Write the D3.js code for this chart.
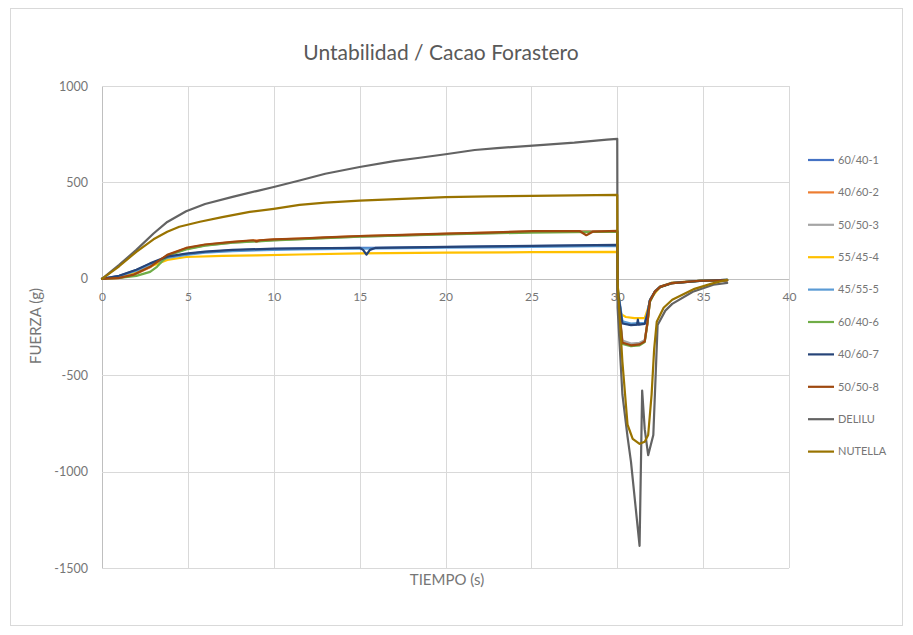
<!DOCTYPE html>
<html>
<head>
<meta charset="utf-8">
<script src="https://cdn.jsdelivr.net/npm/d3@7"></script>
<style>
  html, body { margin: 0; padding: 0; background: #fff; }
  svg { display: block; font-family: Lato, "Open Sans", sans-serif; }
</style>
</head>
<body>
<svg id="chart" width="913" height="635"></svg>
<script>
// Spreadability test: force (g) against time (s) for each sample
const chartTitle = "Untabilidad / Cacao Forastero";
const xTitle = "TIEMPO (s)";
const yTitle = "FUERZA (g)";
const xTicks = [0, 5, 10, 15, 20, 25, 30, 35, 40];
const yTicks = [-1500, -1000, -500, 0, 500, 1000];

const seriesNames = ["60/40-1", "40/60-2", "50/50-3", "55/45-4", "45/55-5",
                     "60/40-6", "40/60-7", "50/50-8", "DELILU", "NUTELLA"];
const seriesColors = ["#4472C4", "#ED7D31", "#A5A5A5", "#FFC000", "#5B9BD5",
                      "#70AD47", "#264478", "#9E480E", "#636363", "#997300"];

// [time, force] readings per sample
const s60_40_1 = [[0,0],[1,15],[2,45],[2.8,78],[3.8,112],[4.9,128],[6,139],[7.6,148],[10,154],[11.5,156],[13,158],[15,160],[16,161],[20,165],[25,170],[30,174],
  [30.03,-60],[30.3,-228],[30.8,-238],[31.2,-236],[31.6,-232],[31.75,-185],[31.9,-112],[32.2,-66],[32.5,-42],[33.2,-22],[34.8,-11],[36.4,-6]];
const s40_60_2 = [[0,0],[1,4],[1.8,18],[2.8,60],[3.8,122],[4.9,158],[6,176],[7.6,190],[8.8,198],[10,203],[11.5,208],[13,214],[15,221],[17.5,227],[20,233],[22.5,239],[25.1,245],[27.8,247],[30,248],
  [30.03,-90],[30.3,-328],[30.8,-342],[31.3,-338],[31.6,-322],[31.75,-235],[31.9,-118],[32.2,-66],[32.5,-42],[33.2,-22],[34.8,-10],[36.4,-8]];
const s50_50_3 = [[0,0],[1,6],[1.8,22],[2.8,64],[3.8,120],[4.9,155],[6,173],[7.6,188],[10,200],[11.5,206],[13,212],[15,219],[17.5,225],[20,231],[22.5,237],[25.1,243],[27.8,245],[30,246],
  [30.03,-80],[30.3,-320],[30.8,-336],[31.3,-332],[31.6,-318],[31.75,-230],[31.9,-115],[32.2,-64],[32.5,-41],[33.2,-21],[34.8,-10],[36.4,-8]];
const s55_45_4 = [[0,0],[1,10],[2,35],[3,70],[3.8,98],[4.9,113],[7,119],[9,122],[11.5,126],[15,132],[20,136],[25,138],[30,140],
  [30.03,-40],[30.2,-182],[30.5,-198],[31,-204],[31.6,-204],[31.8,-150],[31.95,-102],[32.5,-40],[33.2,-20],[34.8,-10],[36.4,-5]];
const s45_55_5 = [[0,0],[1,13],[2,42],[2.8,74],[3.8,108],[4.9,124],[6,135],[7.6,144],[10,150],[11.5,152],[15,156],[20,161],[25,166],[30,170],
  [30.03,-50],[30.3,-220],[30.8,-232],[31.2,-230],[31.6,-228],[31.75,-182],[31.9,-110],[32.2,-64],[32.5,-41],[33.2,-21],[34.8,-10],[36.4,-6]];
const s60_40_6 = [[0,0],[1,5],[2,15],[2.8,36],[3.2,62],[3.6,100],[4.0,126],[4.9,152],[6,172],[7.6,187],[10,199],[15,218],[20,230],[25,240],[30,244],
  [30.03,-100],[30.3,-338],[30.8,-350],[31.3,-345],[31.6,-328],[31.75,-238],[31.9,-120],[32.2,-67],[32.5,-43],[33.2,-23],[34.8,-11],[36.4,-8]];
const s40_60_7 = [[0,0],[1,16],[2,47],[2.8,80],[3.8,115],[4.9,131],[6,141],[7.6,150],[10,156],[11.5,158],[15,161],[15.2,150],[15.4,125],[15.6,150],[15.9,160],[20,166],[25,171],[30,176],
  [30.03,-60],[30.3,-232],[30.8,-240],[31.15,-238],[31.2,-212],[31.25,-238],[31.6,-234],[31.75,-186],[31.9,-112],[32.2,-66],[32.5,-42],[33.2,-22],[34.8,-11],[36.4,-6]];
const s50_50_8 = [[0,0],[1,5],[1.8,20],[2.8,62],[3.8,124],[4.9,160],[6,178],[7.6,192],[8.8,200],[9.0,194],[9.2,200],[10,204],[11.5,209],[13,215],[15,222],[17.5,228],[20,234],[22.5,240],[25.1,247],[27.8,248],[28.2,226],[28.6,245],[30,249],
  [30.03,-95],[30.3,-332],[30.8,-345],[31.3,-340],[31.6,-325],[31.75,-232],[31.9,-115],[32.2,-65],[32.5,-42],[33.2,-22],[34.8,-10],[36.4,-8]];
const sDelilu = [[0,0],[1,72],[2,150],[3,235],[3.8,295],[4.9,350],[6,388],[7.6,425],[9,455],[10,476],[11.5,510],[13,545],[15,580],[17,610],[18.5,628],[20,646],[21.7,668],[23,678],[25.7,695],[27.5,706],[29.4,722],[30,726],
  [30.02,-150],[30.3,-600],[30.6,-820],[30.8,-950],[31.3,-1385],[31.45,-580],[31.6,-780],[31.8,-915],[32.1,-810],[32.35,-240],[32.8,-165],[33.2,-130],[34.4,-67],[35.6,-31],[36.4,-21]];
const sNutella = [[0,0],[1,65],[2,140],[2.4,166],[3,205],[3.8,244],[4.5,270],[5.7,296],[7,320],[8.6,347],[10,363],[11.5,383],[13,395],[15,405],[17.5,415],[20,424],[22.5,428],[25,430],[27.5,433],[30,435],
  [30.02,-20],[30.3,-430],[30.6,-757],[30.9,-830],[31.3,-856],[31.6,-845],[31.8,-810],[32.0,-600],[32.15,-363],[32.3,-223],[32.7,-150],[33.2,-109],[34.5,-52],[35.5,-25],[36.4,-5]];

const seriesData = [s60_40_1, s40_60_2, s50_50_3, s55_45_4, s45_55_5,
                    s60_40_6, s40_60_7, s50_50_8, sDelilu, sNutella];

const svg = d3.select("#chart");

// chart frame
svg.append("rect")
  .attr("x", 10.5).attr("y", 8.5).attr("width", 892).attr("height", 617)
  .attr("fill", "#fff").attr("stroke", "#d9d9d9").attr("stroke-width", 1);

const x = d3.scaleLinear().domain([0, 40]).range([102, 789]);
const y = d3.scaleLinear().domain([-1500, 1000]).range([568, 86]);
const plain = d => String(d);

// gridlines
const grid = svg.append("g").attr("shape-rendering", "crispEdges");
grid.selectAll(".gx").data(xTicks).join("line")
  .attr("x1", d => Math.round(x(d)) + 0.5).attr("x2", d => Math.round(x(d)) + 0.5)
  .attr("y1", y(1000)).attr("y2", y(-1500))
  .attr("stroke", d => d === 0 ? "#bfbfbf" : "#d9d9d9");
grid.selectAll(".gy").data(yTicks).join("line")
  .attr("x1", x(0)).attr("x2", x(40))
  .attr("y1", d => Math.round(y(d)) + 0.5).attr("y2", d => Math.round(y(d)) + 0.5)
  .attr("stroke", d => d === 0 ? "#bfbfbf" : "#d9d9d9");

// y axis labels
const yAxis = d3.axisLeft(y).tickValues(yTicks).tickFormat(plain).tickSize(0).tickPadding(14);
const gy = svg.append("g").attr("transform", `translate(${x(0)},0)`).call(yAxis);
gy.select(".domain").remove();
gy.selectAll("text").attr("fill", "#767676").style("font-size", "12.5px")
  .style("font-family", "Lato, sans-serif");

// x axis labels, sitting under the zero line
const xAxis = d3.axisBottom(x).tickValues(xTicks).tickFormat(plain).tickSize(0).tickPadding(14);
const gx = svg.append("g").attr("transform", `translate(0,${y(0)})`).call(xAxis);
gx.select(".domain").remove();
gx.selectAll("text").attr("fill", "#767676").style("font-size", "12px")
  .style("font-family", "Lato, sans-serif");

// series lines
const line = d3.line().x(d => x(d[0])).y(d => y(d[1])).curve(d3.curveLinear);
svg.append("g").selectAll("path").data(seriesData).join("path")
  .attr("d", line)
  .attr("fill", "none")
  .attr("stroke", (d, i) => seriesColors[i])
  .attr("stroke-width", 2.2)
  .attr("stroke-linejoin", "round")
  .attr("stroke-linecap", "round");

// titles
svg.append("text").attr("x", 441).attr("y", 60).attr("text-anchor", "middle")
  .attr("fill", "#595959").style("font-size", "21px").text(chartTitle);
svg.append("text").attr("x", 447).attr("y", 585).attr("text-anchor", "middle")
  .attr("fill", "#767676").style("font-size", "15px").text(xTitle);
svg.append("text").attr("transform", "translate(41,326) rotate(-90)")
  .attr("text-anchor", "middle")
  .attr("fill", "#767676").style("font-size", "15px").text(yTitle);

// legend
const legend = svg.append("g").selectAll("g").data(seriesNames).join("g")
  .attr("transform", (d, i) => `translate(808,${160 + i * 32.4})`);
legend.append("line").attr("x1", 0).attr("x2", 26).attr("y1", 0).attr("y2", 0)
  .attr("stroke", (d, i) => seriesColors[i]).attr("stroke-width", 2.2);
legend.append("text").attr("x", 30).attr("y", 0).attr("dy", "0.35em")
  .attr("fill", "#767676").style("font-size", "11px").text(d => d);
</script>
</body>
</html>
